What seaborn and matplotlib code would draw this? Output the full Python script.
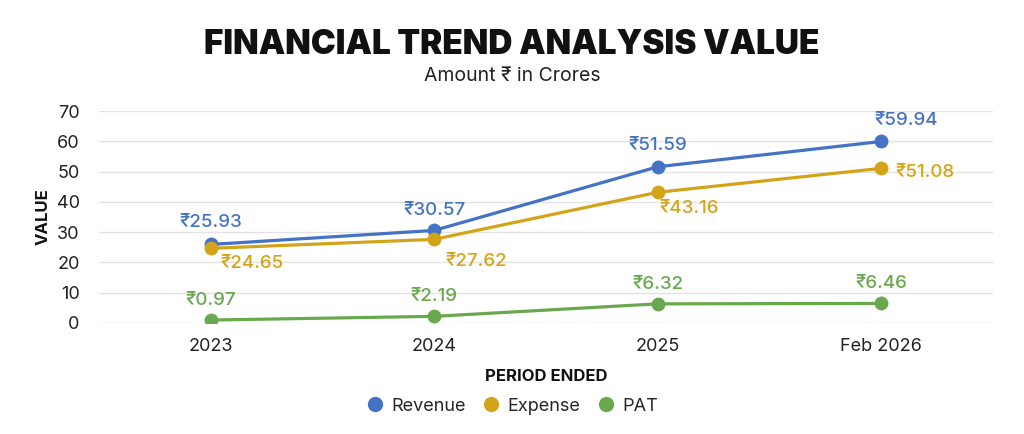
import matplotlib
matplotlib.use("Agg")
import matplotlib.pyplot as plt
from matplotlib.lines import Line2D
import seaborn as sns
import pandas as pd

periods = ["2023", "2024", "2025", "Feb 2026"]
revenue = [25.93, 30.57, 51.59, 59.94]
expense = [24.65, 27.62, 43.16, 51.08]
pat = [0.97, 2.19, 6.32, 6.46]
series_names = ["Revenue", "Expense", "PAT"]
colors = ["#4472C4", "#D4A418", "#6AA84F"]
y_ticks = [0, 10, 20, 30, 40, 50, 60, 70]

# label offsets in points (style only)
rev_off = [(0, 16), (0, 14), (0, 15), (18, 15)]
exp_off = [(7, -11), (8, -16), (1.5, -12), (10, -3)]
pat_off = [(0, 14), (0, 14), (0, 14), (0, 14)]

sns.set_theme(style="white")
FONT = ["Inter", "DejaVu Sans"]
plt.rcParams["font.family"] = FONT

rows = []
for name, vals in zip(series_names, [revenue, expense, pat]):
    for p, v in zip(periods, vals):
        rows.append({"Period": p, "Value": v, "Series": name})
df = pd.DataFrame(rows)

fig = plt.figure(figsize=(10.24, 4.34), dpi=100)
ax = fig.add_axes([0.0967, 0.2558, 0.873, 0.4884])

sns.lineplot(data=df, x="Period", y="Value", hue="Series", hue_order=series_names,
             palette=colors, marker="o", markersize=10, markeredgewidth=0,
             linewidth=2.3, sort=False, legend=False, ax=ax, zorder=3)

ax.set_xlim(-0.5, len(periods) - 0.5)
ax.set_ylim(0, 70)
ax.set_yticks(y_ticks)
ax.yaxis.grid(True, color="#E3E3E3", linewidth=1.0)
ax.xaxis.grid(False)
for s in ax.spines.values():
    s.set_visible(False)
ax.tick_params(axis="both", length=0, labelsize=13, colors="#222222")
ax.tick_params(axis="x", pad=11)
ax.tick_params(axis="y", pad=14)

ax.set_xlabel("PERIOD ENDED", fontsize=12, fontweight="bold", color="#111111", labelpad=10)
ax.set_ylabel("VALUE", fontsize=12, fontweight="bold", color="#111111", labelpad=4)

for k, (vals, offs, c) in enumerate(zip([revenue, expense, pat], [rev_off, exp_off, pat_off], colors)):
    for i, (v, o) in enumerate(zip(vals, offs)):
        ax.annotate(f"₹{v:.2f}", (i, v), xytext=o, textcoords="offset points",
                    ha="left" if k == 1 else "center", va="center",
                    fontsize=13.5, color=c, fontweight="medium", family=FONT)

fig.text(0.5, 0.897, "FINANCIAL TREND ANALYSIS VALUE", ha="center", va="center",
         fontsize=24, fontweight="black", color="#111111", family=["Inter", "DejaVu Sans"])
fig.text(0.5, 0.825, "Amount ₹ in Crores", ha="center", va="center",
         fontsize=14, color="#222222", family=FONT)

handles = [Line2D([0], [0], marker="o", linestyle="none", markersize=11,
                  markerfacecolor=c, markeredgewidth=0) for c in colors]
fig.legend(handles, series_names, loc="center", bbox_to_anchor=(0.5, 0.064), ncol=3,
           frameon=False, fontsize=13, handlelength=1.0, handletextpad=0.4,
           columnspacing=0.9)

fig.savefig("out.png", dpi=100, facecolor="white")
